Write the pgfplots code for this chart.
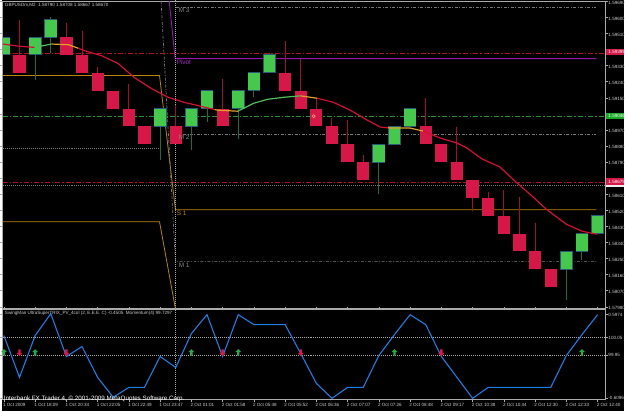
\documentclass[border=0pt]{standalone}
\usepackage{fontspec}
\setmainfont{Liberation Sans}
\usepackage{pgfplots}
\usepackage{pgfplotstable}
\pgfplotsset{compat=1.18}
\definecolor{candR}{RGB}{214,24,72}
\definecolor{candG}{RGB}{70,200,76}
\definecolor{wickR}{RGB}{160,16,40}
\definecolor{wickG}{RGB}{30,110,60}
\definecolor{gborder}{RGB}{40,90,120}
\definecolor{maR}{RGB}{210,16,50}
\definecolor{maG}{RGB}{80,190,90}
\definecolor{maO}{RGB}{225,160,40}
\definecolor{lvlR}{RGB}{175,16,30}
\definecolor{lvlG}{RGB}{30,150,50}
\definecolor{lvlGray}{RGB}{120,120,120}
\definecolor{piv}{RGB}{150,20,170}
\definecolor{pivT}{RGB}{170,40,200}
\definecolor{gold}{RGB}{184,134,11}
\definecolor{axc}{RGB}{170,170,170}
\definecolor{txt}{RGB}{205,205,205}
\definecolor{blueL}{RGB}{30,125,225}
\definecolor{arrR}{RGB}{225,20,70}
\definecolor{arrG}{RGB}{40,170,70}
\pgfdeclareplotmark{uparr}{%
 \pgfpathmoveto{\pgfpoint{0pt}{3.4pt}}%
 \pgfpathlineto{\pgfpoint{3pt}{0.4pt}}%
 \pgfpathlineto{\pgfpoint{1.2pt}{0.4pt}}%
 \pgfpathlineto{\pgfpoint{1.2pt}{-3.2pt}}%
 \pgfpathlineto{\pgfpoint{-1.2pt}{-3.2pt}}%
 \pgfpathlineto{\pgfpoint{-1.2pt}{0.4pt}}%
 \pgfpathlineto{\pgfpoint{-3pt}{0.4pt}}%
 \pgfpathclose\pgfusepathqfill}
\pgfdeclareplotmark{dnarr}{%
 \pgfpathmoveto{\pgfpoint{0pt}{-3.4pt}}%
 \pgfpathlineto{\pgfpoint{3pt}{-0.4pt}}%
 \pgfpathlineto{\pgfpoint{1.2pt}{-0.4pt}}%
 \pgfpathlineto{\pgfpoint{1.2pt}{3.2pt}}%
 \pgfpathlineto{\pgfpoint{-1.2pt}{3.2pt}}%
 \pgfpathlineto{\pgfpoint{-1.2pt}{-0.4pt}}%
 \pgfpathlineto{\pgfpoint{-3pt}{-0.4pt}}%
 \pgfpathclose\pgfusepathqfill}
\pgfplotstableread{
x mid hi lo
2 1.5934 1.59586 1.5929
5 1.5944 1.59571 1.5939
6 1.5934 1.59525 1.5929
7 1.5924 1.59325 1.5919
8 1.5914 1.5919 1.5909
9 1.5904 1.59225 1.5899
10 1.5894 1.5899 1.5889
12 1.5894 1.59108 1.5889
15 1.5904 1.59253 1.5899
19 1.5924 1.59466 1.5919
20 1.5914 1.59369 1.5909
21 1.5904 1.59147 1.5899
22 1.5894 1.59036 1.5889
23 1.5884 1.59025 1.5879
24 1.5874 1.58831 1.5869
28 1.5894 1.59147 1.5889
29 1.5884 1.5889 1.5879
30 1.5874 1.58986 1.5869
31 1.5864 1.5869 1.58519
32 1.5854 1.58621 1.5849
33 1.5844 1.58636 1.5839
34 1.5834 1.58592 1.5829
35 1.5824 1.58447 1.5819
36 1.5814 1.5819 1.5809
}\redc
\pgfplotstableread{
x mid hi lo
1 1.5944 1.5949 1.5939
3 1.5944 1.5949 1.59247
4 1.5954 1.59603 1.59403
11 1.5904 1.5909 1.58803
13 1.5904 1.5909 1.58858
14 1.5914 1.5919 1.59014
16 1.5914 1.5919 1.58919
17 1.5924 1.5929 1.59153
18 1.5934 1.59403 1.5929
25 1.5884 1.5889 1.58614
26 1.5894 1.5899 1.5889
27 1.5904 1.5909 1.5899
37 1.5824 1.5829 1.58016
38 1.5834 1.5839 1.58243
39 1.5844 1.5849 1.5839
}\greenc
\pgfplotstableread{
x v
1 0.2957
2 -0.3078
3 0.2957
4 0.6118
5 -0.0061
6 0.1376
7 -0.3078
8 -0.5952
9 -0.4515
10 -0.4515
11 -0.0061
12 -0.1642
13 0.3244
14 0.5974
15 -0.0061
16 0.5974
17 0.4537
18 0.4537
19 0.4537
20 0.0370
21 -0.3941
22 -0.6096
23 -0.4515
24 -0.4515
25 0.0083
26 0.3100
27 0.5974
28 0.4537
29 -0.0061
30 -0.3078
31 -0.6096
32 -0.4515
33 -0.4515
34 -0.4515
35 -0.4515
36 -0.4515
37 0.0083
38 0.3100
39 0.5974
}\trix
\pgfplotsset{candle/.style={draw=none, mark=none, forget plot, error bars/y dir=both, error bars/error mark=none}}
\begin{document}
\begin{tikzpicture}[x=1pt,y=1pt]
\fill[black] (0,0) rectangle (625,413);
\begin{axis}[
  at={(1pt,103pt)}, anchor=south west,
  width=605pt, height=309pt, scale only axis,
  xmin=0.93, xmax=39.49, ymin=1.579694, ymax=1.59692,
  axis line style={axc, line width=0.8pt},
  xtick=\empty,
  ytick={1.5798,1.5807,1.5816,1.5825,1.5834,1.5843,1.5852,1.5861,1.5870,1.5879,1.5888,1.5897,1.5906,1.5915,1.5924,1.5933,1.5942,1.5951,1.5960,1.5969},
  yticklabels={1.57980,1.58070,1.58160,1.58250,1.58340,1.58430,1.58520,1.58610,,1.58790,1.58880,1.58970,,1.59150,1.59240,1.59330,,1.59510,1.59600,1.59690},
  yticklabel pos=right, tick align=outside, major tick length=2.5pt,
  tick style={axc, line width=0.6pt},
  yticklabel style={font=\fontsize{4.6}{5}\selectfont, text=txt, anchor=west, inner sep=0pt, xshift=0.5pt, yshift=-1.2pt},
]
% levels
\addplot[lvlR, line width=0.8pt, dash pattern=on 5pt off 2pt on 1.5pt off 2pt] coordinates {(0.93,1.593989) (39.49,1.593989)};
\addplot[lvlGray, line width=0.7pt, dash pattern=on 3pt off 1.5pt on 1pt off 1.5pt] coordinates {(12.02,1.596583) (38.92,1.596583)};
\addplot[piv, line width=0.9pt] coordinates {(11.58,1.59692) (11.96,1.593694) (38.92,1.593694)};
\addplot[lvlG, line width=0.8pt, dash pattern=on 5pt off 2pt on 1.5pt off 2pt] coordinates {(0.93,1.590456) (39.49,1.590456)};
\addplot[lvlGray, line width=0.7pt, dash pattern=on 3pt off 1.5pt on 1pt off 1.5pt] coordinates {(12.02,1.589472) (38.92,1.589472)};
\addplot[lvlGray, line width=0.7pt, dash pattern=on 1pt off 1pt] coordinates {(0.93,1.588694) (11.06,1.588694)};
\addplot[lvlR, line width=0.8pt, dash pattern=on 5pt off 2pt on 1.5pt off 2pt] coordinates {(0.93,1.586789) (39.49,1.586789)};
\addplot[lvlGray, line width=0.6pt, dash pattern=on 1pt off 1pt] coordinates {(0.93,1.586611) (39.49,1.586611)};
\addplot[gold, line width=0.8pt] coordinates {(0.93,1.59275) (10.96,1.59275) (11.98,1.585233) (38.92,1.585233)};
\addplot[gold, line width=0.8pt] coordinates {(0.93,1.584567) (10.96,1.584567) (11.98,1.579694)};
\addplot[lvlGray, line width=0.7pt, dash pattern=on 3pt off 1.5pt on 1pt off 1.5pt] coordinates {(11.06,1.59692) (11.98,1.582344) (38.92,1.582344)};
\addplot[axc, line width=0.6pt, dash pattern=on 1pt off 1pt] coordinates {(11.99,1.5796) (11.99,1.5970)};
% wicks
\addplot[candle, error bars/.cd, y explicit, error bar style={draw=wickR, line width=1pt}]
  table[x=x, y=mid, y error plus expr=\thisrow{hi}-\thisrow{mid}, y error minus expr=\thisrow{mid}-\thisrow{lo}] {\redc};
\addplot[candle, error bars/.cd, y explicit, error bar style={draw=wickG, line width=1pt}]
  table[x=x, y=mid, y error plus expr=\thisrow{hi}-\thisrow{mid}, y error minus expr=\thisrow{mid}-\thisrow{lo}] {\greenc};
% boxes
\addplot[candle, error bars/.cd, y fixed=0.0005, error bar style={draw=candR, line width=12.3pt, line cap=butt}] table[x=x, y=mid] {\redc};
\addplot[candle, error bars/.cd, y fixed=0.00053, error bar style={draw=gborder, line width=12.8pt, line cap=butt}] table[x=x, y=mid] {\greenc};
\addplot[candle, error bars/.cd, y fixed=0.00047, error bar style={draw=candG, line width=11.6pt, line cap=butt}] table[x=x, y=mid] {\greenc};
% moving average
\addplot[maR, line width=1.2pt] coordinates {(0.93,1.594511) (1.95,1.594389) (2.97,1.594322)};
\addplot[maG, line width=1.2pt] coordinates {(2.97,1.594322) (4.05,1.594511)};
\addplot[maO, line width=1.2pt] coordinates {(4.05,1.594511) (5.14,1.594472) (5.77,1.594272)};
\addplot[maR, line width=1.2pt] coordinates {(5.77,1.594272) (6.16,1.594139) (7.24,1.593861) (8.32,1.593417) (9.34,1.592639) (10.43,1.592028) (11.51,1.591528) (12.53,1.59125) (13.61,1.591028) (14.5,1.590840)};
\addplot[maO, line width=1.2pt] coordinates {(14.5,1.590840) (14.70,1.590806) (15.97,1.59075)};
\addplot[maG, line width=1.2pt] coordinates {(15.97,1.59075) (16.99,1.591194) (17.88,1.591417) (18.90,1.591528) (19.99,1.591611)};
\addplot[maO, line width=1.2pt] coordinates {(19.99,1.591611) (21.07,1.591472)};
\addplot[maR, line width=1.2pt] coordinates {(21.07,1.591472) (22.09,1.59125) (23.17,1.590806) (24.26,1.59025) (25.09,1.589861) (25.6,1.58982)};
\addplot[maO, line width=1.2pt] coordinates {(25.6,1.58982) (25.91,1.589806) (27.0,1.589806) (27.83,1.589639)};
\addplot[maR, line width=1.2pt] coordinates {(27.83,1.589639) (28.91,1.58925) (30.0,1.588972) (30.63,1.588694) (31.59,1.588083) (32.73,1.587639) (33.82,1.58675) (34.84,1.585972) (35.73,1.58525) (37.01,1.584417) (38.02,1.584028) (38.98,1.583861)};
\addplot[only marks, mark=o, mark size=1.6pt, mark options={draw={rgb,255:red,240;green,150;blue,120}, line width=0.6pt}] coordinates {(20.82,1.590467)};
\end{axis}
\begin{axis}[
  at={(1pt,12pt)}, anchor=south west,
  width=605pt, height=90pt, scale only axis,
  xmin=0.93, xmax=39.49, ymin=-0.6240, ymax=0.6692,
  axis line style={axc, line width=0.8pt},
  xtick={1,3,...,39},
  xticklabels={1 Oct 2009,1 Oct 18:09,1 Oct 20:34,1 Oct 22:05,1 Oct 22:49,1 Oct 23:47,2 Oct 01:01,2 Oct 01:58,2 Oct 05:48,2 Oct 05:52,2 Oct 06:36,2 Oct 07:07,2 Oct 07:26,2 Oct 08:48,2 Oct 09:17,2 Oct 10:38,2 Oct 10:44,2 Oct 12:30,2 Oct 12:33,2 Oct 12:40},
  xticklabel style={font=\fontsize{4.6}{5}\selectfont, text=txt, anchor=north west, inner sep=0pt, xshift=-1pt, yshift=-1pt},
  ytick={-0.6096,0.0183,0.2669,0.5974},
  yticklabels={-0.6096,99.95,100.05,0.5974},
  yticklabel pos=right, tick align=outside, major tick length=2.5pt,
  tick style={axc, line width=0.6pt},
  yticklabel style={font=\fontsize{4.6}{5}\selectfont, text=txt, anchor=west, inner sep=0pt, xshift=0.5pt},
]
\addplot[axc, line width=0.6pt, dash pattern=on 1pt off 1pt] coordinates {(0.93,0.2669) (39.49,0.2669)};
\addplot[axc, line width=0.6pt, dash pattern=on 1pt off 1pt] coordinates {(0.93,0.0183) (39.49,0.0183)};
\addplot[axc, line width=0.6pt, dash pattern=on 1pt off 1pt] coordinates {(11.99,-0.7) (11.99,0.7)};
\addplot[blueL, line width=1.1pt] table[x=x, y=v] {\trix};
\addplot[only marks, mark=dnarr, color=arrR] coordinates {(2,0.0514) (5,0.0514) (15,0.0514) (20,0.0514) (29,0.0514)};
\addplot[only marks, mark=uparr, color=arrG] coordinates {(1,0.0514) (3,0.0514) (13,0.0514) (16,0.0514) (26,0.0514) (38,0.0514)};
\end{axis}
% right-axis value boxes
\fill[candR] (607,357.3) rectangle (625,364);
\node[anchor=west, inner sep=0pt, font=\fontsize{4.6}{5}\selectfont, text=white] at (609,360.6) {1.59399};
\fill[lvlG!80!green] (607,293.5) rectangle (625,300);
\node[anchor=west, inner sep=0pt, font=\fontsize{4.6}{5}\selectfont, text=white] at (609,296.7) {1.59046};
\fill[candR] (607,227.5) rectangle (625,234);
\node[anchor=west, inner sep=0pt, font=\fontsize{4.6}{5}\selectfont, text=white] at (609,230.8) {1.58679};
\fill[white!85!gray] (607,225) rectangle (625,227.5);
% texts
\node[anchor=west, inner sep=0pt, font=\fontsize{4.6}{5}\selectfont, text=txt] at (3,408) {GBPUSDm,M2\ \ 1.58790 1.58708 1.58667 1.58670};
\node[anchor=west, inner sep=0pt, font=\fontsize{4.6}{5}\selectfont, text=txt] at (3,98) {SwingMan UltraSuperTRIX\_PV\_4col (2, E.E.E. C) -0.4505\ \ Momentum(4) 99.7297};
\node[anchor=west, inner sep=0pt, font=\fontsize{6.3}{7}\selectfont, text=white] at (2,12) {Interbank FX Trader 4, © 2001-2009 MetaQuotes Software Corp.};
\node[anchor=west, inner sep=0pt, font=\fontsize{6.4}{7}\selectfont, text=lvlGray!90!white] at (177.5,403) {M 3};
\node[anchor=west, inner sep=0pt, font=\fontsize{6.4}{7}\selectfont, text=pivT] at (175.5,351) {Pivot};
\node[anchor=west, inner sep=0pt, font=\fontsize{6.4}{7}\selectfont, text=lvlGray!90!white] at (177.5,275) {M 2};
\node[anchor=west, inner sep=0pt, font=\fontsize{6.4}{7}\selectfont, text=gold] at (175.5,199) {S 1};
\node[anchor=west, inner sep=0pt, font=\fontsize{6.4}{7}\selectfont, text=lvlGray!90!white] at (177.5,147) {M 1};
\end{tikzpicture}
\end{document}
